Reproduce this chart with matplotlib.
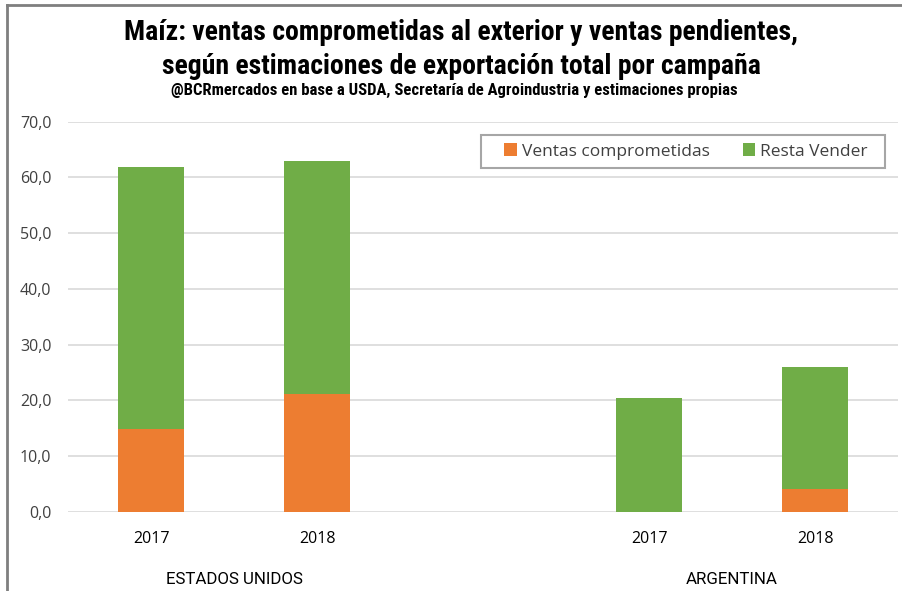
import matplotlib
matplotlib.use("Agg")
import matplotlib.pyplot as plt
from matplotlib.lines import Line2D
from matplotlib.patches import Rectangle
import numpy as np

years = ["2017", "2018", "2017", "2018"]
groups = ["ESTADOS UNIDOS", "ARGENTINA"]
positions = [0, 1, 3, 4]
comprometidas = [14.9, 21.1, 0.0, 4.2]
resta_vender = [47.0, 41.9, 20.5, 21.8]
yticks = [0, 10, 20, 30, 40, 50, 60, 70]

orange = "#ED7D31"
green = "#70AD47"
txt = "#404040"
cond = ["Roboto Condensed", "Roboto"]

fig = plt.figure(figsize=(9.02, 5.91), dpi=100)
W, H = 902, 591
ax = fig.add_axes([68 / W, 79 / H, (898 - 68) / W, (512 - 121.7) / H])

ax.bar(positions, comprometidas, width=0.40, color=orange, label="Ventas comprometidas", zorder=3)
ax.bar(positions, resta_vender, width=0.40, bottom=comprometidas, color=green, label="Resta Vender", zorder=3)

ax.set_xlim(-0.5, 4.5)
ax.set_ylim(0, 70)
ax.set_yticks(yticks)
ax.set_yticklabels([f"{v:.1f}".replace(".", ",") for v in yticks], fontsize=11.5, color=txt, family="Open Sans")
ax.set_xticks(positions)
ax.set_xticklabels(years, fontsize=11.5, color="black", family="Open Sans")
ax.tick_params(length=0)
ax.tick_params(axis="x", pad=14)
ax.tick_params(axis="y", pad=12)
for s in ax.spines.values():
    s.set_visible(False)
ax.yaxis.grid(True, color="#D9D9D9", linewidth=1.2, zorder=0)
ax.set_axisbelow(True)

for gname, xc in zip(groups, [0.5, 3.5]):
    ax.text(xc, -0.172, gname, transform=ax.get_xaxis_transform(), ha="center", va="center",
            fontsize=12.2, color="black", family="Roboto")

# legend box (pixel coords of reference)
bx0, bx1, by0, by1 = 481, 885, 135, 168
fig.add_artist(Rectangle((bx0 / W, 1 - by1 / H), (bx1 - bx0) / W, (by1 - by0) / H,
                         transform=fig.transFigure, facecolor="white", edgecolor="#A6A6A6",
                         linewidth=1.5, zorder=4))
leg = fig.legend(*ax.get_legend_handles_labels(), loc="center",
                 bbox_to_anchor=((bx0 + bx1) / 2 / W + 3 / W, 1 - (by0 + by1) / 2 / H),
                 ncol=2, frameon=False,
                 handlelength=0.7, handleheight=0.7, handletextpad=0.3, columnspacing=1.9,
                 borderpad=0.0, prop={"family": "Open Sans", "size": 12.5})
leg.set_zorder(5)
for t in leg.get_texts():
    t.set_color(txt)

fig.text(461 / W, 1 - 33 / H, "Maíz: ventas comprometidas al exterior y ventas pendientes,",
         ha="center", va="center", fontsize=20, fontweight="bold", family=cond)
fig.text(461 / W, 1 - 66 / H, "según estimaciones de exportación total por campaña",
         ha="center", va="center", fontsize=20, fontweight="bold", family=cond)
fig.text(454 / W, 1 - 90 / H, "@BCRmercados en base a USDA, Secretaría de Agroindustria y estimaciones propias",
         ha="center", va="center", fontsize=12, fontweight="bold", family=cond)

fig.add_artist(Line2D([7 / W, 7 / W], [0, 1 - 5 / H], transform=fig.transFigure, color="#7F7F7F", linewidth=2))
fig.add_artist(Line2D([7 / W, 1], [1 - 5 / H, 1 - 5 / H], transform=fig.transFigure, color="#7F7F7F", linewidth=2))

fig.savefig("out.png", dpi=100)
